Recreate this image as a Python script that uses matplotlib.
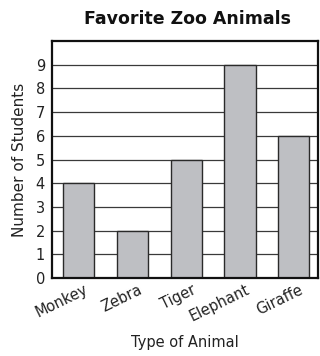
import matplotlib
matplotlib.use('Agg')
import matplotlib.pyplot as plt
from matplotlib.transforms import ScaledTranslation

# Favorite zoo animals survey
animals = ['Monkey', 'Zebra', 'Tiger', 'Elephant', 'Giraffe']
students = [4, 2, 5, 9, 6]
y_ticks = list(range(10))

plt.rcParams['font.family'] = ['DejaVu Sans']

fig = plt.figure(figsize=(3.2, 3.56), dpi=100)
ax = fig.add_axes([52 / 320, 78 / 356, 266 / 320, 237 / 356])

# horizontal grid lines behind the bars
for v in range(1, 10):
    ax.axhline(v, color='#3a3a3a', linewidth=0.9, zorder=1)

ax.bar(range(len(animals)), students, width=0.58, color='#bebfc3',
       edgecolor='#2a2a2a', linewidth=1.0, zorder=2)

ax.set_xlim(-0.5, 4.45)
ax.set_ylim(0, 10)
ax.set_yticks(y_ticks)
ax.set_yticklabels([str(v) for v in y_ticks], fontsize=10.5, color='#222222')
ax.set_xticks(range(len(animals)))
ax.set_xticklabels(animals, rotation=26, fontsize=10.5, color='#222222',
                   ha='right', va='top', rotation_mode='anchor')
ax.tick_params(axis='y', length=0, pad=5)
ax.tick_params(axis='x', length=0, pad=3)
# nudge the slanted names so their ends sit just right of each bar centre
shift = ScaledTranslation(5 / 100, 0, fig.dpi_scale_trans)
for lbl in ax.get_xticklabels():
    lbl.set_transform(lbl.get_transform() + shift)

for s in ax.spines.values():
    s.set_linewidth(1.6)
    s.set_color('#111111')

ax.set_ylabel('Number of Students', fontsize=11, color='#222222', labelpad=6)
ax.set_xlabel('Type of Animal', fontsize=10.5, color='#222222', labelpad=8)
fig.text(0.585, 0.948, 'Favorite Zoo Animals', fontsize=12.5, fontweight='bold',
         ha='center', va='center', color='#111111')

plt.savefig('out.png', dpi=100)
